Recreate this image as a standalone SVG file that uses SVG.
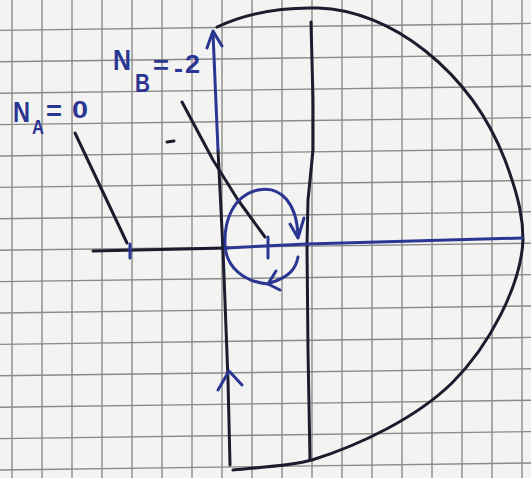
<svg xmlns="http://www.w3.org/2000/svg" width="531" height="478" viewBox="0 0 531 478">
<style>
.grid line{stroke:#8a8a8a;stroke-width:1.4}
.k{fill:none;stroke:#1b1c2e;stroke-width:3;stroke-linecap:round;stroke-linejoin:round}
.b{fill:none;stroke:#2b3592;stroke-width:3;stroke-linecap:round;stroke-linejoin:round}
.t{fill:#2b3592;font-family:"Liberation Sans",Arial,sans-serif;font-weight:bold}
</style>
<rect width="531" height="478" fill="#f3f3f1"/>
<g id="grid" class="grid">
<line x1="12" y1="0" x2="12" y2="478"/><line x1="42" y1="0" x2="42" y2="478"/>
<line x1="72" y1="0" x2="72" y2="478"/><line x1="102" y1="0" x2="102" y2="478"/>
<line x1="132" y1="0" x2="132" y2="478"/><line x1="162" y1="0" x2="162" y2="478"/>
<line x1="192" y1="0" x2="192" y2="478"/><line x1="222" y1="0" x2="222" y2="478"/>
<line x1="252" y1="0" x2="252" y2="478"/><line x1="282" y1="0" x2="282" y2="478"/>
<line x1="312" y1="0" x2="312" y2="478"/><line x1="342" y1="0" x2="342" y2="478"/>
<line x1="372" y1="0" x2="372" y2="478"/><line x1="402" y1="0" x2="402" y2="478"/>
<line x1="432" y1="0" x2="432" y2="478"/><line x1="462" y1="0" x2="462" y2="478"/>
<line x1="492" y1="0" x2="492" y2="478"/><line x1="522" y1="0" x2="522" y2="478"/>
<line x1="0" y1="30.4" x2="531" y2="23.4"/><line x1="0" y1="61.8" x2="531" y2="54.8"/>
<line x1="0" y1="93.2" x2="531" y2="86.2"/><line x1="0" y1="124.6" x2="531" y2="117.6"/>
<line x1="0" y1="156" x2="531" y2="149"/><line x1="0" y1="187.4" x2="531" y2="180.4"/>
<line x1="0" y1="218.8" x2="531" y2="211.8"/><line x1="0" y1="250.2" x2="531" y2="243.2"/>
<line x1="0" y1="281.6" x2="531" y2="274.6"/><line x1="0" y1="313" x2="531" y2="306"/>
<line x1="0" y1="344.4" x2="531" y2="337.4"/><line x1="0" y1="375.8" x2="531" y2="368.8"/>
<line x1="0" y1="407.2" x2="531" y2="400.2"/><line x1="0" y1="438.6" x2="531" y2="431.6"/>
<line x1="0" y1="470" x2="531" y2="463"/>
</g>
<g id="connectors">
<path id="contour" class="k" d="M217,27 C245,14 280,7 318,8 C390,10 470,70 505,160 C520,200 523,220 523,240 C521,285 490,345 452,383 C416,418 360,445 312,460 C290,466 262,467 233,470"/>
<path id="axis-v-left" class="k" d="M218,150 L223,250 L228,380 L230,465"/>
<path id="axis-v-left-top" class="b" d="M213,33 L218,150"/>
<path id="axis-v-right" class="k" d="M311,22 L313,100 L313,150 L308,200 L307,245 L308,350 L310,460"/>
<path id="axis-h-left" class="k" d="M93,251 L228,248"/>
<path id="axis-h-right" class="b" d="M226,248 L307,244 L522,238"/>
<path id="pointer-a" class="k" d="M75,133 L127,243"/>
<path id="pointer-b" class="k" d="M182,102 L213,160 L238,200 L265,237"/>
<path id="tick-a" class="b" d="M130,244 L130,258"/>
<path id="tick-b" class="b" d="M268,237 L268,258"/>
<path id="loop" class="b" d="M268,284 C245,282 226,268 225,245 C224,222 232,196 258,190 C282,185 297,205 298,236"/>
<path id="loop-lower" class="b" d="M298,257 C296,268 290,277 270,283"/>
<polyline class="b" points="290,224 298,238 304,218"/>
<polyline class="b" points="276,271 268,284 280,290"/>
<polyline class="b" points="207,48 213,31 222,46"/>
<polyline class="b" points="218,390 229,371 242,385"/>
<path class="k" d="M167,142 L174,141" stroke-width="2.5"/>
</g>
<g id="label-a">
<text class="t" x="13" y="122" font-size="29" textLength="17" lengthAdjust="spacingAndGlyphs">N</text>
<text class="t" x="32" y="134" font-size="20" textLength="12" lengthAdjust="spacingAndGlyphs">A</text>
<text class="t" x="46" y="120" font-size="27" textLength="16" lengthAdjust="spacingAndGlyphs">=</text>
<text class="t" x="72" y="118" font-size="23" textLength="16" lengthAdjust="spacingAndGlyphs">0</text>
</g>
<g id="label-b">
<text class="t" x="113" y="70" font-size="30" textLength="18" lengthAdjust="spacingAndGlyphs">N</text>
<text class="t" x="135" y="92" font-size="26" textLength="15" lengthAdjust="spacingAndGlyphs">B</text>
<text class="t" x="153" y="74" font-size="25" textLength="16" lengthAdjust="spacingAndGlyphs">=</text>
<text class="t" x="174" y="77" font-size="26" textLength="9" lengthAdjust="spacingAndGlyphs">-</text>
<text class="t" x="185" y="73" font-size="25" textLength="15" lengthAdjust="spacingAndGlyphs">2</text>
</g>
</svg>
